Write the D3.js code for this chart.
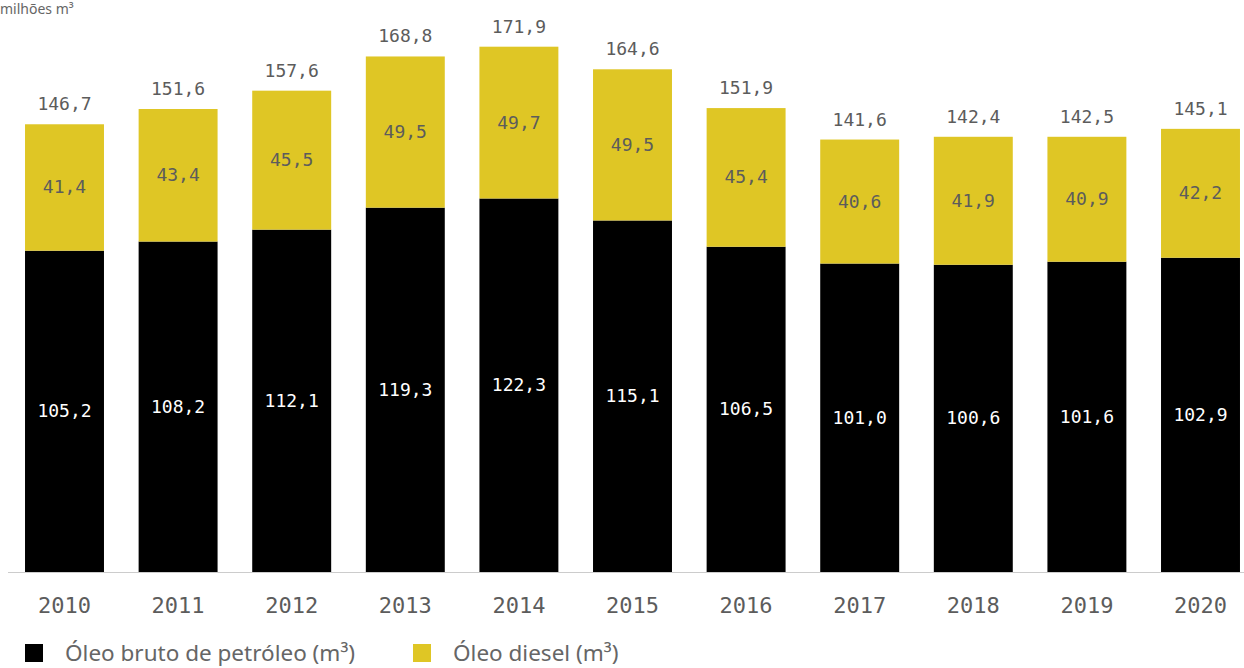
<!DOCTYPE html>
<html>
<head>
<meta charset="utf-8">
<script src="https://cdn.jsdelivr.net/npm/d3@7"></script>
<style>
  body { margin: 0; background: #fff; }
  svg { display: block; }
</style>
</head>
<body>
<svg id="chart" width="1244" height="668"></svg>
<script>
// values (milhões m³)
const years = ["2010","2011","2012","2013","2014","2015","2016","2017","2018","2019","2020"];
const bruto = [105.2, 108.2, 112.1, 119.3, 122.3, 115.1, 106.5, 101.0, 100.6, 101.6, 102.9];
const diesel = [41.4, 43.4, 45.5, 49.5, 49.7, 49.5, 45.4, 40.6, 41.9, 40.9, 42.2];
const totals = [146.7, 151.6, 157.6, 168.8, 171.9, 164.6, 151.9, 141.6, 142.4, 142.5, 145.1];
const seriesNames = ["Óleo bruto de petróleo (m³)", "Óleo diesel (m³)"];

const black = "#000000", yellow = "#dfc625";
const mono = "DejaVu Sans Mono, monospace";
const fmt = v => d3.format(".1f")(v).replace(".", ",");

const svg = d3.select("#chart");

// title (the original shows it cut at the top edge; keep it just inside)
svg.append("text")
  .attr("x", 0).attr("y", 14)
  .attr("font-family", "Noto Sans, sans-serif")
  .attr("font-size", 14)
  .attr("fill", "#666")
  .text("milhões m³");

const x = d3.scaleBand()
  .domain(years)
  .range([7.7, 1257.3])
  .paddingInner(0.305)
  .paddingOuter(0.1525);

const y = d3.scaleLinear()
  .domain([0, 171.9])
  .range([572, 47]);

const rows = years.map((yr, i) => ({ year: yr, bruto: bruto[i], diesel: diesel[i], total: totals[i] }));
const stack = d3.stack().keys(["bruto", "diesel"])(rows);
const colors = [black, yellow];

svg.append("g").selectAll("g")
  .data(stack)
  .join("g")
  .attr("fill", (d, i) => colors[i])
  .selectAll("rect")
  .data(d => d)
  .join("rect")
  .attr("x", d => x(d.data.year))
  .attr("width", x.bandwidth())
  .attr("y", d => y(d[1]))
  .attr("height", d => y(d[0]) - y(d[1]));

// segment labels
svg.append("g").selectAll("text")
  .data(rows)
  .join("text")
  .attr("x", d => x(d.year) + x.bandwidth() / 2)
  .attr("y", d => y(d.bruto / 2) + 6)
  .attr("text-anchor", "middle")
  .attr("font-family", mono)
  .attr("font-size", 18)
  .attr("fill", "#fff")
  .text(d => fmt(d.bruto));

svg.append("g").selectAll("text")
  .data(rows)
  .join("text")
  .attr("x", d => x(d.year) + x.bandwidth() / 2)
  .attr("y", d => y(d.bruto + d.diesel / 2) + 6)
  .attr("text-anchor", "middle")
  .attr("font-family", mono)
  .attr("font-size", 18)
  .attr("fill", "#5c5c5c")
  .text(d => fmt(d.diesel));

// totals
svg.append("g").selectAll("text")
  .data(rows)
  .join("text")
  .attr("x", d => x(d.year) + x.bandwidth() / 2)
  .attr("y", d => y(d.bruto + d.diesel) - 14)
  .attr("text-anchor", "middle")
  .attr("font-family", mono)
  .attr("font-size", 18)
  .attr("fill", "#5c5c5c")
  .text(d => fmt(d.total));

// x axis
const xAxis = svg.append("g")
  .attr("transform", `translate(0,${y(0)})`)
  .call(d3.axisBottom(x).tickSize(0).tickPadding(25));
xAxis.select(".domain").attr("stroke", "#cccccc").attr("d", "M8,0.5H1244");
xAxis.selectAll("text")
  .attr("font-family", mono)
  .attr("font-size", 22)
  .attr("fill", "#5c5c5c");

// legend
const legendX = [25, 413];
const legend = svg.append("g").selectAll("g")
  .data(seriesNames)
  .join("g")
  .attr("transform", (d, i) => `translate(${legendX[i]},644)`);
legend.append("rect")
  .attr("width", 18).attr("height", 18)
  .attr("fill", (d, i) => colors[i]);
legend.append("text")
  .attr("x", 40).attr("y", 17)
  .attr("font-family", "Noto Sans, sans-serif")
  .attr("font-size", 22.5)
  .attr("fill", "#666")
  .text(d => d);
</script>
</body>
</html>
